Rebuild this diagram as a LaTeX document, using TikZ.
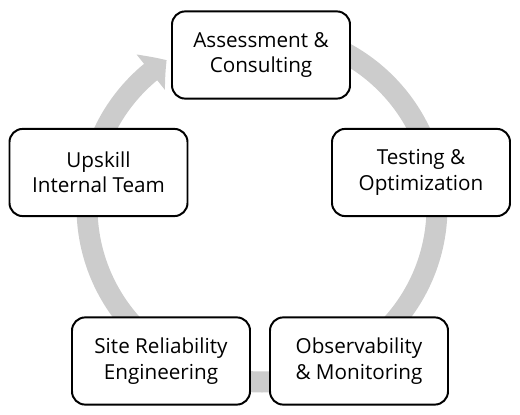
\documentclass[tikz,border=0pt]{standalone}
\usepackage{fontspec}
\setmainfont{Open Sans}
\usetikzlibrary{arrows.meta}
\usetikzlibrary{bending}

\begin{document}
\begin{tikzpicture}[stage/.style={draw,line width=1.4pt,rounded corners=0.33cm,fill=white,minimum width=4.45cm,minimum height=2.18cm,align=center,font=\fontsize{14.7}{18}\selectfont},
    ring/.style={line width=0.525cm,color=ringgray,arrows={-Triangle[length=0.5cm,width=1.1cm,bend]}}]
    \definecolor{ringgray}{RGB}{204,204,204}
    \useasboundingbox (0,0) rectangle (13,-10.375);
    \coordinate (hub) at (6.55,-5.175);
    \draw[ring] ([shift={(90:4.375)}]hub) arc[start angle=90,end angle=-237,radius=4.375];
    \node[stage] (assess) at (6.525,-1.375) {Assessment \&\\Consulting};
    \node[stage] (test) at (10.525,-4.3125) {Testing \&\\Optimization};
    \node[stage] (observ) at (8.975,-9.025) {Observability\\\& Monitoring};
    \node[stage] (sre) at (4.025,-9.025) {Site Reliability\\Engineering};
    \node[stage] (upskill) at (2.4625,-4.3125) {Upskill\\Internal Team};
\end{tikzpicture}
\end{document}
